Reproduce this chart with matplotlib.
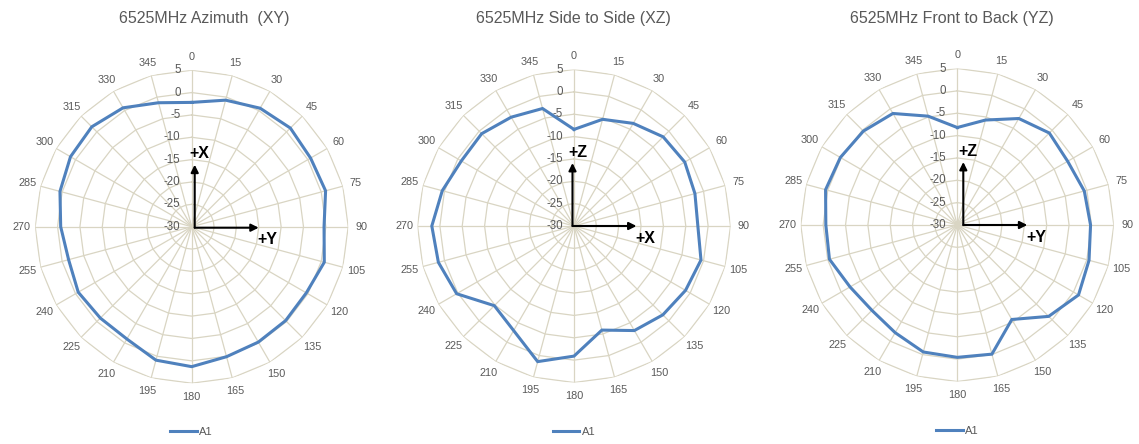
import numpy as np
import matplotlib
matplotlib.use('Agg')
import matplotlib.pyplot as plt

plt.rcParams['font.family'] = ['Liberation Sans', 'DejaVu Sans']

# data: gain (dB) every 15 degrees, 0..345
angles = list(range(0, 360, 15))
ring_values = [-30, -25, -20, -15, -10, -5, 0, 5]

xy_gain = [-2.2, -0.7, 0.6, 1.2, 0.7, 1.0, -0.4, 0.7, -0.4, -0.3, -0.2, 0.1,
           1.3, 0.9, -1.0, -1.1, -0.7, -1.5, -0.7, 0.5, 1.3, 1.6, 0.7, -1.3]
xz_gain = [-8.4, -5.3, -3.5, -1.8, -1.4, -2.0, -2.3, -0.6, -1.2, -1.9, -3.0, -5.9,
           -0.9, 1.4, -3.0, -4.8, 0.3, 1.4, 1.8, 0.5, -0.9, -0.8, -1.9, -2.8]
yz_gain = [-8.2, -5.7, -2.5, -0.9, -1.5, -0.6, -0.2, 0.5, 1.3, -1.1, -5.6, -0.1,
           -0.4, -0.6, -2.2, -3.0, -2.3, -0.4, -0.6, 0.5, 0.2, -0.3, -1.2, -4.8]

titles = ['6525MHz Azimuth  (XY)', '6525MHz Side to Side (XZ)', '6525MHz Front to Back (YZ)']
gains = [xy_gain, xz_gain, yz_gain]
axis_labels = [('+X', '+Y'), ('+Z', '+X'), ('+Z', '+Y')]

grid_color = '#d9d5c3'
text_color = '#595959'
line_color = '#4f81bd'

W, H = 1139, 444
fig = plt.figure(figsize=(W / 100, H / 100), dpi=100)

# chart centres in pixels (from top-left), radius of outer ring
centres = [(191.7, 226.7), (574.0, 226.0), (957.3, 225.0)]
title_x = [204, 573.5, 951.5]
R = 156.5
arrow_base = [(3, 1), (-1.5, 0), (6, 0)]

th = np.deg2rad(angles)
th_closed = np.append(th, th[0])

for i in range(3):
    cx, cy = centres[i]
    ax = fig.add_axes([(cx - R) / W, (H - cy - R) / H, 2 * R / W, 2 * R / H],
                      projection='polar')
    ax.set_theta_zero_location('N')
    ax.set_theta_direction(-1)
    ax.set_ylim(-30, 5)
    ax.grid(False)
    ax.set_xticks([])
    ax.set_yticks([])
    ax.spines['polar'].set_visible(False)
    ax.patch.set_alpha(0)

    # polygon rings and spokes
    for v in ring_values:
        ax.plot(th_closed, [v] * len(th_closed), color=grid_color, lw=0.9, zorder=1)
    for t in th:
        ax.plot([t, t], [-30, 5], color=grid_color, lw=0.9, zorder=1)

    # value labels along 0 spoke
    for v in ring_values:
        ax.annotate(str(v), xy=(0, v), xytext=(-8, 0), textcoords='offset points',
                    ha='right', va='center', fontsize=8.3, color=text_color)
    # angle labels
    for a, t in zip(angles, th):
        ax.text(t, 8.0, str(a), ha='center', va='center', fontsize=7.8,
                color=text_color)

    g = gains[i]
    ax.plot(th_closed, np.append(g, g[0]), color=line_color, lw=2.2, zorder=3,
            label='A1', solid_joinstyle='miter')

    fig.text(title_x[i] / W, 1 - 18 / H, titles[i], ha='center', va='center',
             fontsize=11.5, color=text_color)

    # axis arrows
    bx, by = arrow_base[i]
    x0 = 0.5 + bx / (2 * R)
    y0 = 0.5 - by / (2 * R)
    up, rt = axis_labels[i]
    arrow = dict(arrowstyle='-|>', color='black', lw=1.5, mutation_scale=11,
                 shrinkA=0, shrinkB=0)
    ax.annotate('', xy=(x0, y0 + 63 / (2 * R)), xytext=(x0, y0),
                xycoords='axes fraction', arrowprops=arrow, zorder=4)
    ax.annotate('', xy=(x0 + 64 / (2 * R), y0), xytext=(x0, y0),
                xycoords='axes fraction', arrowprops=arrow, zorder=4)
    ax.text(x0 + 5 / (2 * R), y0 + 74 / (2 * R), up, transform=ax.transAxes,
            ha='center', va='center', fontsize=11.5, fontweight='bold', color='black')
    ax.text(x0 + 73 / (2 * R), y0 - 12 / (2 * R), rt, transform=ax.transAxes,
            ha='center', va='center', fontsize=11.5, fontweight='bold', color='black')

    ax.legend(loc='center', bbox_to_anchor=(0.5, -0.157), frameon=False,
              fontsize=8, labelcolor=text_color, handlelength=2.4,
              handletextpad=0.2)

fig.savefig('out.png', dpi=100)
